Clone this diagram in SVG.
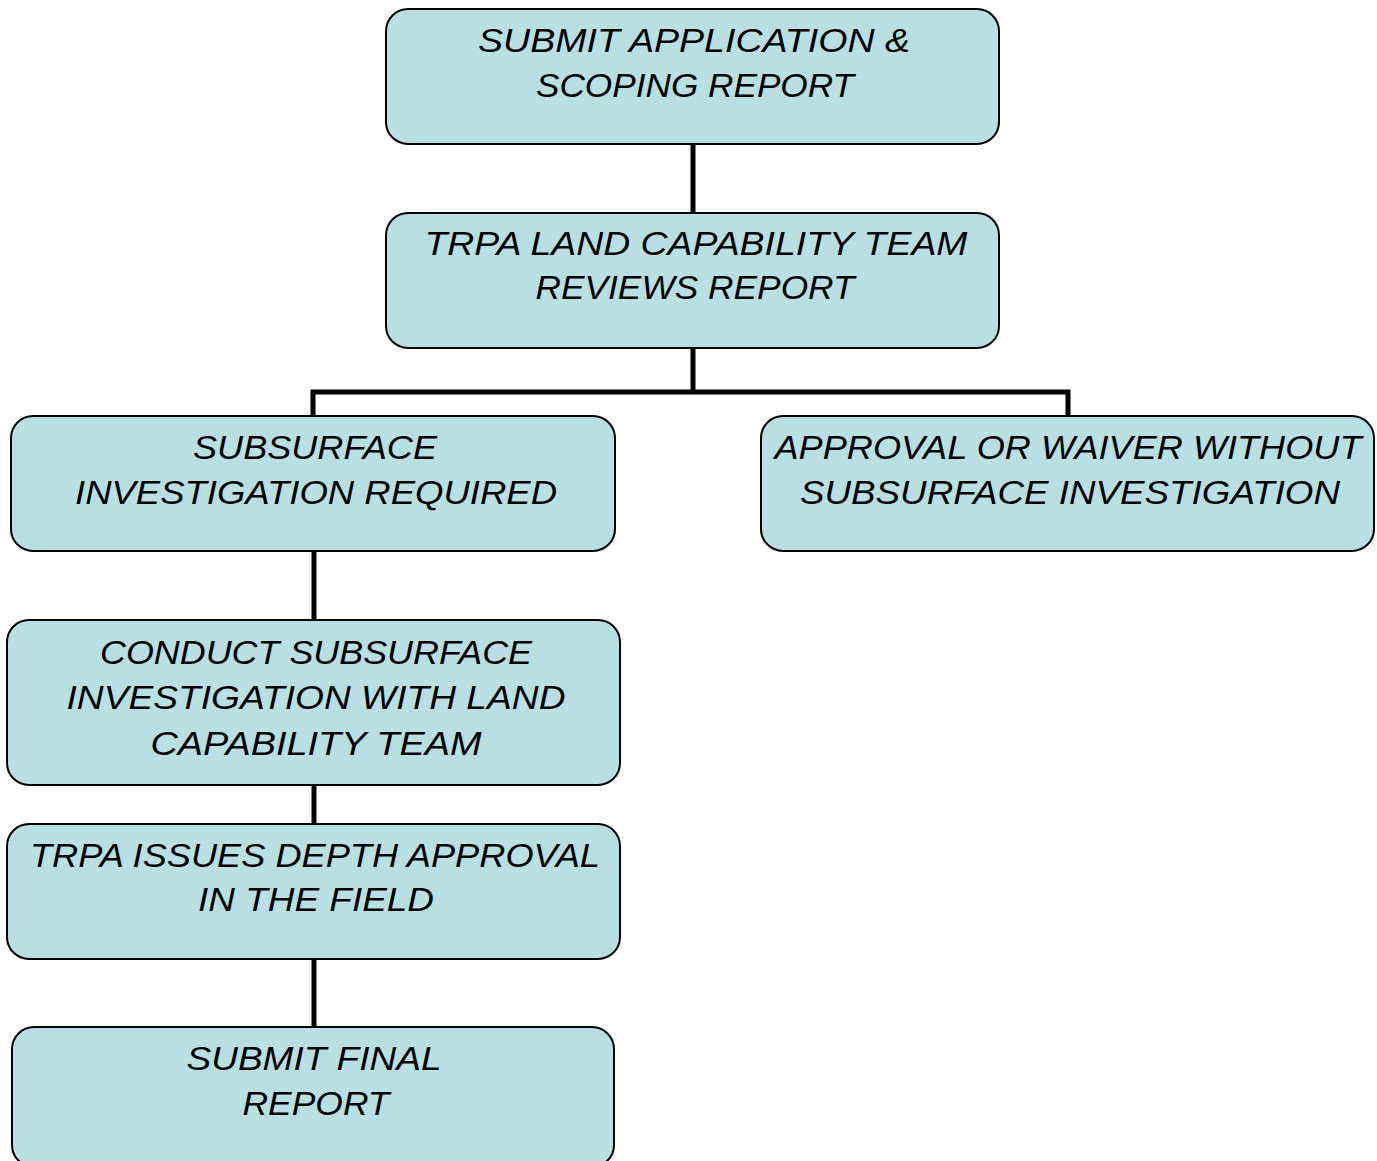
<svg xmlns="http://www.w3.org/2000/svg" width="1377" height="1161" viewBox="0 0 1377 1161">
<style>
.box{fill:#b9dfe2;stroke:#000;stroke-width:2}
.lbl{font-family:"Liberation Sans",Arial,sans-serif;font-style:italic;font-size:33px;fill:#000;text-anchor:middle}
.conn{fill:none;stroke:#000;stroke-width:5;stroke-linecap:butt;stroke-linejoin:miter}
</style>
<rect width="1377" height="1161" fill="#fff"/>
<g id="connectors">
<path class="conn" d="M693 144V213"/>
<path class="conn" d="M693 348V392M313 416V392H1068V416"/>
<path class="conn" d="M314 551V620"/>
<path class="conn" d="M314 785V824"/>
<path class="conn" d="M314 959V1027"/>
</g>
<g id="n1">
<rect class="box" x="386" y="9" width="613" height="135" rx="22"/>
<text class="lbl" x="694" y="52" textLength="432" lengthAdjust="spacingAndGlyphs">SUBMIT APPLICATION &amp;</text>
<text class="lbl" x="695" y="97" textLength="318" lengthAdjust="spacingAndGlyphs">SCOPING REPORT</text>
</g>
<g id="n2">
<rect class="box" x="386" y="213" width="613" height="135" rx="22"/>
<text class="lbl" x="696" y="255" textLength="543" lengthAdjust="spacingAndGlyphs">TRPA LAND CAPABILITY TEAM</text>
<text class="lbl" x="695" y="299" textLength="319" lengthAdjust="spacingAndGlyphs">REVIEWS REPORT</text>
</g>
<g id="n3">
<rect class="box" x="11" y="416" width="604" height="135" rx="22"/>
<text class="lbl" x="315" y="459" textLength="244" lengthAdjust="spacingAndGlyphs">SUBSURFACE</text>
<text class="lbl" x="316" y="504" textLength="482" lengthAdjust="spacingAndGlyphs">INVESTIGATION REQUIRED</text>
</g>
<g id="n4">
<rect class="box" x="761" y="416" width="613" height="135" rx="22"/>
<text class="lbl" x="1068" y="459" textLength="587" lengthAdjust="spacingAndGlyphs">APPROVAL OR WAIVER WITHOUT</text>
<text class="lbl" x="1070" y="504" textLength="540" lengthAdjust="spacingAndGlyphs">SUBSURFACE INVESTIGATION</text>
</g>
<g id="n5">
<rect class="box" x="7" y="620" width="613" height="165" rx="22"/>
<text class="lbl" x="316" y="664" textLength="432" lengthAdjust="spacingAndGlyphs">CONDUCT SUBSURFACE</text>
<text class="lbl" x="316" y="709" textLength="499" lengthAdjust="spacingAndGlyphs">INVESTIGATION WITH LAND</text>
<text class="lbl" x="316" y="755" textLength="331" lengthAdjust="spacingAndGlyphs">CAPABILITY TEAM</text>
</g>
<g id="n6">
<rect class="box" x="7" y="824" width="613" height="135" rx="22"/>
<text class="lbl" x="315" y="867" textLength="570" lengthAdjust="spacingAndGlyphs">TRPA ISSUES DEPTH APPROVAL</text>
<text class="lbl" x="316" y="911" textLength="236" lengthAdjust="spacingAndGlyphs">IN THE FIELD</text>
</g>
<g id="n7">
<rect class="box" x="12" y="1027" width="602" height="140" rx="22"/>
<text class="lbl" x="314" y="1070" textLength="255" lengthAdjust="spacingAndGlyphs">SUBMIT FINAL</text>
<text class="lbl" x="316" y="1115" textLength="147" lengthAdjust="spacingAndGlyphs">REPORT</text>
</g>
</svg>
